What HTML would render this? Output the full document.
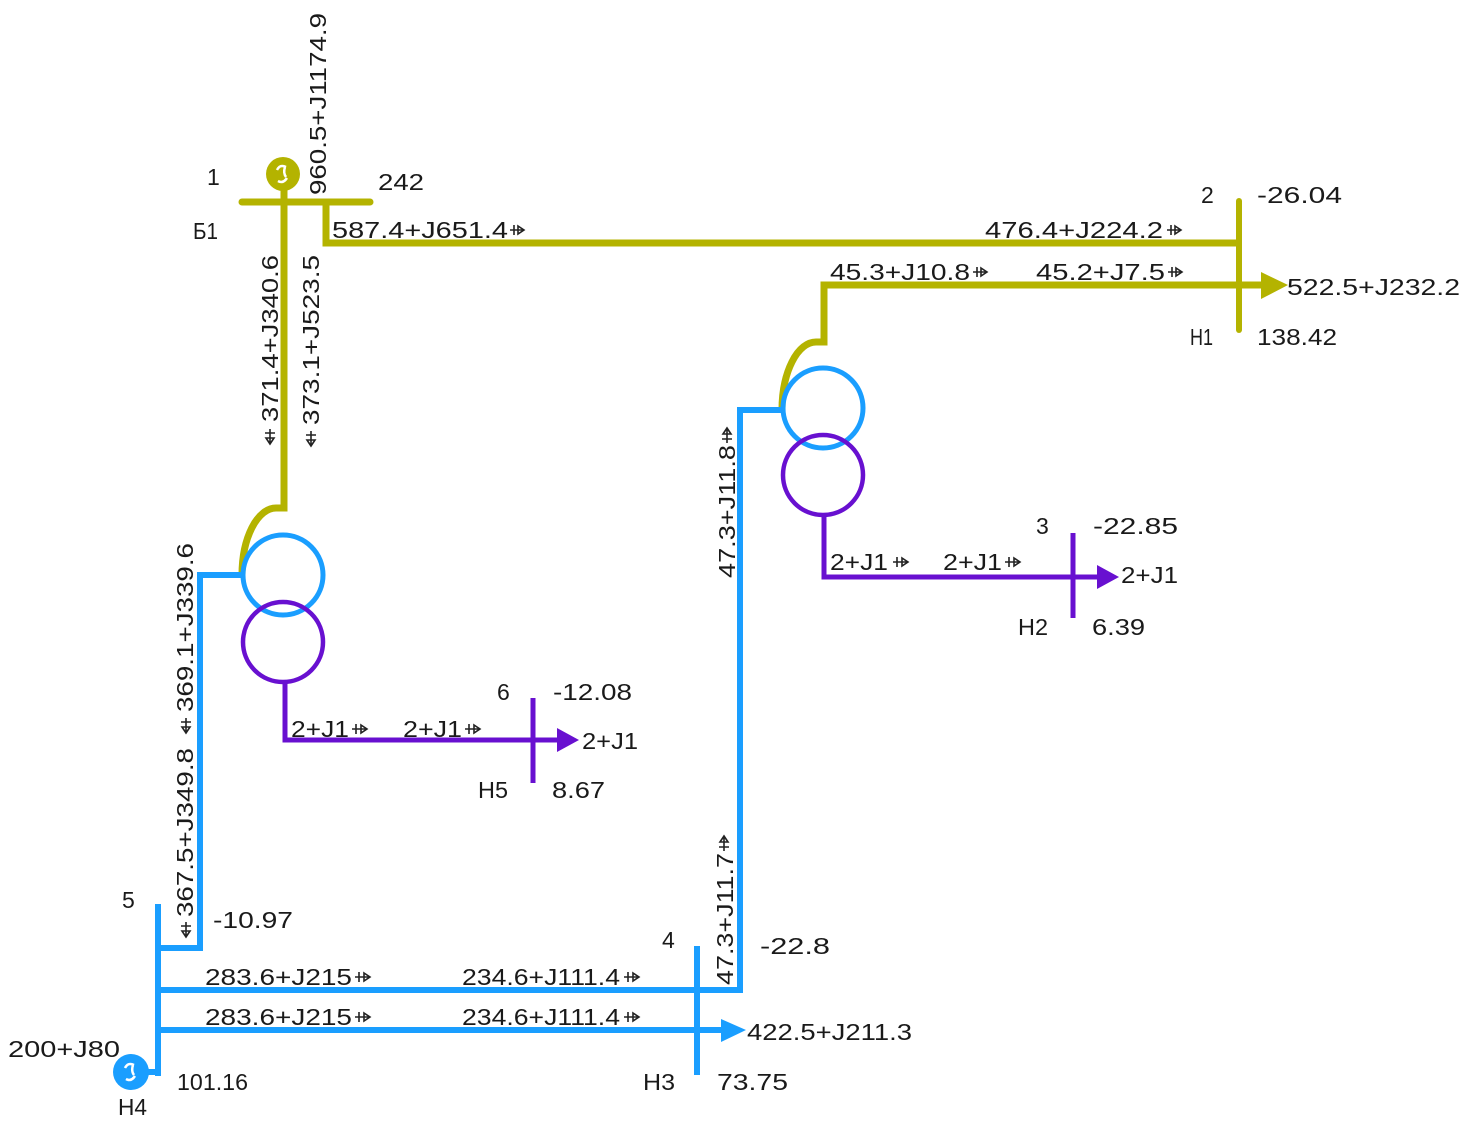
<!DOCTYPE html>
<html><head><meta charset="utf-8"><style>
html,body{margin:0;padding:0;background:#fff;}
svg{display:block;}
text{font-family:"Liberation Sans",sans-serif;font-size:23px;fill:#1a1a1a;}
.sa{fill:none;stroke:#222;stroke-width:1.6;}
</style></head><body>
<svg width="1472" height="1128" viewBox="0 0 1472 1128" xmlns="http://www.w3.org/2000/svg">
<rect width="1472" height="1128" fill="#fff"/>

<!-- ============ OLIVE (top) ============ -->
<g stroke="#b4b300" fill="none" stroke-width="7">
  <line x1="242" y1="202" x2="370" y2="202" stroke-linecap="round"/>
  <line x1="284" y1="190" x2="284" y2="202"/>
  <path d="M284 202 V508 H276 A34 67 0 0 0 242 575"/>
  <path d="M326 202 V243 H1238"/>
  <line x1="1239" y1="201" x2="1239" y2="330" stroke-width="6" stroke-linecap="round"/>
  <path d="M1264 285 H824 V342 H816 A34 68 0 0 0 782 410"/>
</g>
<polygon points="1261,272 1288,285 1261,299" fill="#b4b300"/>
<circle cx="283" cy="174" r="17" fill="#b4b300"/>
<path d="M277 170 q3 -6 9 -3 M278 181 q5 3 9 -3 M285 167 q-2 6 1 10" stroke="#fff" stroke-width="2.5" fill="none"/>

<!-- ============ BLUE ============ -->
<g stroke="#1a9eff" fill="none" stroke-width="6">
  <circle cx="283" cy="575" r="40" stroke-width="5"/>
  <circle cx="823" cy="408" r="40" stroke-width="5"/>
  <path d="M242 575 H200 V948 H158"/>
  <line x1="158" y1="904" x2="158" y2="1076"/>
  <line x1="148" y1="1072" x2="158" y2="1072"/>
  <path d="M782 410 H740 V990 H158"/>
  <line x1="158" y1="1030" x2="724" y2="1030"/>
  <line x1="697" y1="946" x2="697" y2="1075"/>
</g>
<polygon points="721,1019 746,1030 721,1042" fill="#1a9eff"/>
<circle cx="131" cy="1072" r="18" fill="#1a9eff"/>
<path d="M125 1068 q3 -6 9 -3 M126 1079 q5 3 9 -3 M133 1065 q-2 6 1 10" stroke="#fff" stroke-width="2.5" fill="none"/>

<!-- ============ PURPLE ============ -->
<g stroke="#6810d0" fill="none" stroke-width="5">
  <circle cx="283" cy="642" r="40" stroke-width="4.5"/>
  <circle cx="823" cy="475" r="40" stroke-width="4.5"/>
  <path d="M285 682 V740 H560"/>
  <line x1="533" y1="698" x2="533" y2="783"/>
  <path d="M824 515 V577 H1100"/>
  <line x1="1073" y1="533" x2="1073" y2="618"/>
</g>
<polygon points="557,728 579,740 557,752" fill="#6810d0"/>
<polygon points="1097,565 1119,577 1097,589" fill="#6810d0"/>

<!-- ============ small flow arrows ============ -->
<g class="sa">
  <path d="M510 230 h14 M514 225 v10 M518 226 L524 230 L518 234 Z"/>
  <path d="M1167 230 h14 M1171 225 v10 M1175 226 L1181 230 L1175 234 Z"/>
  <path d="M973 272 h14 M977 267 v10 M981 268 L987 272 L981 276 Z"/>
  <path d="M1168 272 h14 M1172 267 v10 M1176 268 L1182 272 L1176 276 Z"/>
  <path d="M355 977 h15 M359 972 v10 M364 973 L370 977 L364 981 Z"/>
  <path d="M355 1017 h15 M359 1012 v10 M364 1013 L370 1017 L364 1021 Z"/>
  <path d="M624 977 h15 M628 972 v10 M633 973 L639 977 L633 981 Z"/>
  <path d="M624 1017 h15 M628 1012 v10 M633 1013 L639 1017 L633 1021 Z"/>
  <path d="M352 729 h15 M356 724 v10 M361 725 L367 729 L361 733 Z"/>
  <path d="M465 729 h15 M469 724 v10 M474 725 L480 729 L474 733 Z"/>
  <path d="M893 562 h15 M897 557 v10 M902 558 L908 562 L902 566 Z"/>
  <path d="M1005 562 h15 M1009 557 v10 M1014 558 L1020 562 L1014 566 Z"/>
  <path d="M270 429 v15 M265 433 h10 M266 438 L270 444 L274 438 Z"/>
  <path d="M311 431 v15 M306 435 h10 M307 440 L311 446 L315 440 Z"/>
  <path d="M186 718 v15 M181 722 h10 M182 727 L186 733 L190 727 Z"/>
  <path d="M186 922 v15 M181 926 h10 M182 931 L186 937 L190 931 Z"/>
  <path d="M727 443 v-15 M722 439 h10 M723 434 L727 428 L731 434 Z"/>
  <path d="M724 851 v-15 M719 847 h10 M720 842 L724 836 L728 842 Z"/>
</g>

<!-- ============ LABELS ============ -->
<g>
<text x="207" y="185">1</text>
<text x="378" y="190" textLength="46" lengthAdjust="spacingAndGlyphs">242</text>
<text x="193" y="239" textLength="25" lengthAdjust="spacingAndGlyphs">Б1</text>
<text x="332" y="238" textLength="176" lengthAdjust="spacingAndGlyphs">587.4+J651.4</text>
<text x="985" y="238" textLength="178" lengthAdjust="spacingAndGlyphs">476.4+J224.2</text>
<text x="830" y="280" textLength="140" lengthAdjust="spacingAndGlyphs">45.3+J10.8</text>
<text x="1036" y="280" textLength="129" lengthAdjust="spacingAndGlyphs">45.2+J7.5</text>
<text x="1201" y="203">2</text>
<text x="1257" y="203" textLength="85" lengthAdjust="spacingAndGlyphs">-26.04</text>
<text x="1287" y="295" textLength="173" lengthAdjust="spacingAndGlyphs">522.5+J232.2</text>
<text x="1190" y="345" textLength="23" lengthAdjust="spacingAndGlyphs">Н1</text>
<text x="1257" y="345" textLength="80" lengthAdjust="spacingAndGlyphs">138.42</text>
<text transform="translate(326,195) rotate(-90)" textLength="182" lengthAdjust="spacingAndGlyphs">960.5+J1174.9</text>
<text transform="translate(278,422) rotate(-90)" textLength="167" lengthAdjust="spacingAndGlyphs">371.4+J340.6</text>
<text transform="translate(319,425) rotate(-90)" textLength="170" lengthAdjust="spacingAndGlyphs">373.1+J523.5</text>

<text transform="translate(193,712) rotate(-90)" textLength="169" lengthAdjust="spacingAndGlyphs">369.1+J339.6</text>
<text transform="translate(193,917) rotate(-90)" textLength="169" lengthAdjust="spacingAndGlyphs">367.5+J349.8</text>
<text transform="translate(735,578) rotate(-90)" textLength="133" lengthAdjust="spacingAndGlyphs">47.3+J11.8</text>
<text transform="translate(733,985) rotate(-90)" textLength="132" lengthAdjust="spacingAndGlyphs">47.3+J11.7</text>
<text x="122" y="908">5</text>
<text x="213" y="928" textLength="80" lengthAdjust="spacingAndGlyphs">-10.97</text>
<text x="205" y="985" textLength="147" lengthAdjust="spacingAndGlyphs">283.6+J215</text>
<text x="205" y="1025" textLength="147" lengthAdjust="spacingAndGlyphs">283.6+J215</text>
<text x="8" y="1057" textLength="112" lengthAdjust="spacingAndGlyphs">200+J80</text>
<text x="177" y="1090" textLength="71" lengthAdjust="spacingAndGlyphs">101.16</text>
<text x="118" y="1115" textLength="29" lengthAdjust="spacingAndGlyphs">Н4</text>
<text x="462" y="985" textLength="158" lengthAdjust="spacingAndGlyphs">234.6+J111.4</text>
<text x="462" y="1025" textLength="158" lengthAdjust="spacingAndGlyphs">234.6+J111.4</text>
<text x="662" y="948">4</text>
<text x="760" y="954" textLength="70" lengthAdjust="spacingAndGlyphs">-22.8</text>
<text x="747" y="1040" textLength="165" lengthAdjust="spacingAndGlyphs">422.5+J211.3</text>
<text x="643" y="1090" textLength="32" lengthAdjust="spacingAndGlyphs">Н3</text>
<text x="717" y="1090" textLength="71" lengthAdjust="spacingAndGlyphs">73.75</text>

<text x="291" y="737" textLength="58" lengthAdjust="spacingAndGlyphs">2+J1</text>
<text x="403" y="737" textLength="59" lengthAdjust="spacingAndGlyphs">2+J1</text>
<text x="497" y="700">6</text>
<text x="553" y="700" textLength="79" lengthAdjust="spacingAndGlyphs">-12.08</text>
<text x="582" y="749" textLength="56" lengthAdjust="spacingAndGlyphs">2+J1</text>
<text x="478" y="798" textLength="30" lengthAdjust="spacingAndGlyphs">Н5</text>
<text x="552" y="798" textLength="53" lengthAdjust="spacingAndGlyphs">8.67</text>
<text x="830" y="570" textLength="58" lengthAdjust="spacingAndGlyphs">2+J1</text>
<text x="943" y="570" textLength="59" lengthAdjust="spacingAndGlyphs">2+J1</text>
<text x="1036" y="534">3</text>
<text x="1093" y="534" textLength="85" lengthAdjust="spacingAndGlyphs">-22.85</text>
<text x="1121" y="583" textLength="57" lengthAdjust="spacingAndGlyphs">2+J1</text>
<text x="1018" y="635" textLength="30" lengthAdjust="spacingAndGlyphs">Н2</text>
<text x="1092" y="635" textLength="53" lengthAdjust="spacingAndGlyphs">6.39</text>
</g>
</svg>
</body></html>
